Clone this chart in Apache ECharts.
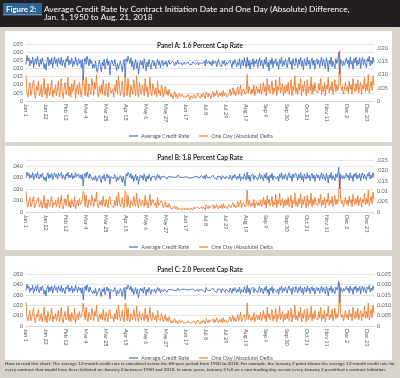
<!DOCTYPE html>
<html>
<head>
<meta charset="utf-8">
<script src="https://cdn.jsdelivr.net/npm/echarts@6/dist/echarts.min.js"></script>
<style>
html,body{margin:0;padding:0;background:#d8d4cc;}
#chart{width:400px;height:378px;}
</style>
</head>
<body>
<div id="chart"></div>
<script>
// ---- categories ----
const monthNames = ['Jan','Feb','Mar','Apr','May','Jun','Jul','Aug','Sep','Oct','Nov','Dec'];
const monthLengths = [31,29,31,30,31,30,31,31,30,31,30,31];
const days = [];
monthNames.forEach((m, i) => { for (let d = 1; d <= monthLengths[i]; d++) days.push(m + ' ' + d); });

// ---- tick labels ----
const leftTicksA = ['0','.005','.010','.015','.020','.025','.030','.035'];
const rightTicksA = ['0','.005','.010','.015','.020'];
const leftTicksB = ['0','.010','.020','.030','.040'];
const rightTicksB = ['0','.005','0.01','.015','.020','.025'];
const leftTicksC = ['0','.010','.020','.030','.040','.050'];
const rightTicksC = ['0','0.005','0.010','0.015','0.020','0.025'];

const seriesNames = ['Average Credit Rate', 'One Day (Absolute) Delta'];
const panelTitles = ['Panel A: 1.6 Percent Cap Rate','Panel B: 1.8 Percent Cap Rate','Panel C: 2.0 Percent Cap Rate'];

// ---- values, in basis points (1 bp = 0.0001) ----
const rateA = [
225,280,245,265,215,250,230,270,205,240,260,225,275,235,210,255,225,265,240,200,230,190,245,270,215,255,225,265,205,240,270,
230,255,210,265,240,225,270,215,250,235,205,260,240,275,220,250,230,265,210,245,225,270,235,215,260,230,250,205,255,
130,240,265,225,275,250,215,260,230,245,200,225,205,245,190,175,225,250,210,180,240,215,255,195,230,260,220,245,160,235,250,
240,215,255,225,185,230,200,220,245,220,180,235,255,150,260,240,275,255,230,265,210,245,190,225,255,200,240,165,215,250,
220,245,200,260,230,185,240,210,255,225,195,235,250,215,240,200,230,255,220,245,205,235,250,215,240,225,245,210,235,250,225,
235,220,245,230,215,240,225,250,230,240,225,235,220,230,240,225,235,230,240,225,235,230,225,240,230,235,225,230,240,220,
235,225,240,230,220,245,215,255,230,220,245,225,240,215,250,230,220,245,210,240,255,225,235,210,245,230,250,215,240,225,235,
215,250,230,205,245,225,255,235,210,240,220,260,200,235,250,215,265,230,205,270,215,250,195,240,225,260,210,245,230,255,205,
240,265,215,250,230,200,255,225,270,210,240,185,250,225,265,205,245,230,260,215,240,195,255,230,270,210,245,220,260,235,
205,250,270,225,245,195,260,230,215,265,240,205,255,225,270,210,245,190,260,235,215,270,225,250,200,240,265,220,250,195,235,
260,225,250,205,240,270,215,255,230,200,265,240,180,250,225,270,210,245,235,200,260,230,250,300,165,255,240,215,245,220,
215,265,230,250,205,270,225,245,195,260,235,270,215,250,225,265,200,245,270,220,255,230,205,260,240,275,215,250,225,270,235
];
const deltaA = [
97,30,15,45,70,20,35,65,80,25,10,55,40,75,20,30,60,15,45,85,25,50,10,65,35,20,55,80,15,40,30,
60,20,45,75,15,35,85,30,10,50,70,25,40,90,20,55,15,65,35,30,80,10,45,60,25,70,40,15,55,
100,95,20,90,35,15,65,40,25,85,60,20,70,45,100,35,15,55,30,60,25,80,40,20,65,45,15,70,75,30,25,
45,15,60,35,80,25,95,55,20,40,75,30,15,100,95,20,85,35,15,60,40,25,80,45,20,95,35,15,70,40,
25,60,45,20,85,35,55,15,40,90,30,20,65,45,25,50,15,75,30,40,20,60,45,15,35,55,25,40,20,45,30,
15,25,10,20,35,15,25,10,20,30,15,10,25,15,10,20,15,10,25,15,5,20,15,10,25,20,10,15,30,20,
15,10,25,15,30,20,10,35,25,15,30,20,10,25,35,15,30,20,40,25,15,30,20,35,15,40,20,30,25,15,20,
30,45,20,35,50,25,40,20,30,55,25,40,60,20,35,45,50,25,35,100,30,55,40,25,45,30,60,20,40,55,30,
45,30,65,25,40,70,35,55,20,85,40,60,30,45,75,25,50,35,80,20,55,40,90,30,45,65,20,55,30,60,
35,70,25,45,80,20,55,40,95,30,50,25,65,40,85,20,60,35,75,45,20,80,30,55,40,90,25,60,35,70,40,
45,30,65,40,85,25,55,35,70,20,60,45,90,30,55,40,75,25,50,80,35,60,40,55,190,60,40,55,25,45,
70,40,55,30,75,45,60,25,85,50,35,65,40,80,30,55,70,25,60,45,90,35,65,40,100,30,55,75,40,95,60
];
const rateB = [
300,345,315,335,290,320,300,340,280,310,330,295,345,305,285,325,300,335,310,275,300,265,315,340,290,325,300,335,280,310,340,
305,325,285,335,310,295,340,290,320,305,280,330,310,345,295,320,300,335,285,315,295,340,305,290,330,300,320,285,325,
225,310,335,300,345,320,290,330,305,315,275,300,280,315,265,250,300,320,285,255,310,290,325,270,300,330,295,315,240,305,320,
310,290,325,300,260,305,275,295,315,295,255,310,325,225,330,310,345,325,300,335,285,315,265,300,325,275,310,240,290,320,
295,315,275,330,300,260,310,285,325,300,270,305,320,290,310,275,300,325,295,315,280,305,320,290,310,300,315,285,305,320,300,
305,295,315,300,290,310,300,320,305,310,300,305,295,300,310,300,305,300,310,295,305,300,295,310,300,305,295,300,310,290,
305,295,315,300,290,315,285,325,300,290,315,295,310,285,320,300,290,315,280,310,325,295,305,280,315,300,320,285,310,295,305,
285,320,300,275,315,295,325,305,280,310,290,330,270,305,320,285,335,300,275,345,285,320,265,310,295,330,280,315,300,325,275,
310,335,285,320,300,270,325,295,340,280,310,255,320,295,335,275,315,300,330,285,310,265,325,300,340,280,315,290,330,305,
275,320,340,295,315,265,330,300,285,335,310,275,325,295,340,280,315,260,330,305,285,340,295,320,270,310,335,290,320,265,305,
330,295,320,275,310,340,285,325,300,270,335,310,250,320,295,340,280,315,305,270,330,300,320,385,200,325,310,285,315,290,
285,335,300,320,275,340,295,315,265,330,305,340,285,320,295,335,270,315,340,290,325,300,275,330,310,345,285,320,295,340,305
];
const deltaB = [
100,40,25,50,70,25,35,60,75,20,15,50,45,70,25,35,55,20,40,80,20,45,15,60,40,25,50,75,20,45,35,
55,25,40,70,20,40,80,25,15,45,65,30,35,85,25,50,20,60,40,25,75,15,40,55,30,65,35,45,60,
100,85,25,80,40,20,60,45,30,80,55,25,65,50,95,30,20,50,35,55,30,75,35,25,60,40,20,65,75,35,30,
40,20,55,30,75,30,95,50,25,40,70,35,20,100,90,25,80,35,20,55,45,30,75,40,25,90,40,20,65,40,
30,55,40,25,80,35,50,20,45,85,30,25,60,40,30,45,20,70,30,35,25,55,40,20,35,50,25,35,20,40,30,
15,20,15,20,30,15,25,10,20,25,15,10,20,15,10,20,15,10,20,15,10,20,15,10,25,15,10,15,25,20,
15,10,25,15,25,20,10,35,25,15,30,20,15,25,35,15,30,20,35,25,15,30,20,35,15,40,20,30,25,15,20,
35,40,20,35,45,25,35,20,30,50,25,40,55,20,35,45,50,25,35,105,30,55,40,25,45,30,60,20,40,50,30,
45,30,60,25,40,70,35,55,20,80,40,60,30,45,75,25,50,35,85,20,55,40,90,30,45,65,20,55,30,60,
35,70,25,45,80,20,55,40,90,30,50,25,65,40,85,20,60,35,75,45,20,80,30,55,40,90,25,60,35,70,40,
45,30,65,40,85,25,55,35,70,20,60,45,90,30,55,40,75,25,50,80,35,60,40,85,185,60,40,55,25,45,
70,40,55,30,75,45,60,25,85,50,35,65,40,80,30,55,70,25,60,45,90,35,65,40,105,30,55,75,40,95,60
];
const rateC = [
340,400,360,385,325,365,345,390,315,355,380,335,395,350,320,375,340,385,355,305,345,290,360,390,325,375,340,385,315,355,390,
345,370,320,385,355,335,390,325,365,350,310,375,355,395,330,365,340,385,320,360,335,390,350,325,375,345,365,315,370,
250,355,385,340,395,365,325,375,345,360,310,340,315,360,295,280,340,365,320,285,355,330,370,300,345,375,335,360,260,350,365,
355,330,370,340,290,345,310,335,360,335,285,350,370,255,375,355,395,370,345,385,325,360,300,340,370,310,355,270,330,365,
335,360,315,375,345,295,355,325,370,340,305,350,365,330,355,315,345,370,335,360,320,350,365,330,355,340,360,325,350,365,340,
350,335,360,345,330,355,340,365,345,355,340,350,335,345,355,340,350,345,355,335,350,345,335,355,345,350,335,345,355,330,
350,335,360,345,330,360,325,370,345,330,360,340,355,325,365,345,330,360,320,355,370,340,350,320,360,345,365,325,355,340,350,
325,365,345,315,360,335,370,350,320,355,330,375,310,350,365,325,380,345,315,390,325,365,305,355,340,375,320,360,345,370,315,
355,380,325,365,345,310,370,340,385,320,355,295,365,340,380,315,360,345,375,325,355,305,370,345,385,320,360,335,375,350,
315,365,385,340,360,305,375,345,325,380,355,315,370,340,385,320,360,300,375,350,325,385,340,365,310,355,380,335,365,305,350,
375,340,365,315,355,385,325,370,345,310,380,355,290,365,340,385,320,360,350,310,375,345,365,430,225,370,355,325,360,335,
325,380,345,365,315,385,340,360,305,375,350,385,325,365,340,380,310,360,385,330,370,345,315,375,355,390,325,365,340,385,350
];
const deltaC = [
115,45,25,50,75,25,40,65,85,25,15,55,45,80,25,35,60,20,45,90,25,50,15,70,40,25,55,85,20,45,35,
60,25,45,75,20,40,90,30,15,50,70,30,40,95,25,55,20,65,40,30,85,15,45,60,30,70,40,50,65,
110,105,30,90,40,20,65,45,30,85,60,25,70,50,100,30,20,55,35,60,30,80,40,25,65,45,20,70,80,35,30,
45,20,60,35,80,30,100,55,25,40,75,35,20,110,100,25,85,35,20,60,45,30,80,45,25,95,40,20,70,40,
30,60,45,25,85,35,55,20,45,90,35,25,65,40,30,50,20,75,35,40,25,60,45,20,35,55,25,40,20,45,30,
15,25,15,20,35,15,25,10,20,30,15,10,25,15,10,20,15,10,25,15,10,20,15,10,25,20,10,15,30,20,
15,10,25,15,30,20,10,35,25,15,30,20,15,25,35,15,30,20,40,25,15,30,20,35,15,40,20,30,25,15,20,
30,45,20,35,50,25,40,20,30,55,25,40,65,20,35,45,55,25,35,110,30,55,40,25,45,30,65,20,40,55,30,
50,30,65,25,40,75,35,55,20,90,40,60,30,45,80,25,50,35,85,20,55,40,95,30,45,70,20,55,30,60,
35,75,25,45,85,20,55,40,100,30,50,25,70,40,90,20,60,35,80,45,20,85,30,55,40,95,25,60,35,75,40,
45,30,70,40,90,25,55,35,75,20,60,45,95,30,55,40,80,25,50,85,35,60,40,90,205,60,40,55,25,45,
75,40,55,30,80,45,60,25,90,50,35,70,40,85,30,55,75,25,60,45,95,35,70,40,110,30,55,80,40,100,60
];

// ---- chart ----
const FONT = 'Lato';
const BLUE = '#4472c4', ORANGE = '#ed7d31', LABEL = '#595959';

const panels = [
  { rate: rateA, delta: deltaA, lt: leftTicksA, rt: rightTicksA, lMax: 350, lInt: 50, rMax: 215, rInt: 50, top: 44, h: 57, titleTop: 37, legendTop: 128 },
  { rate: rateB, delta: deltaB, lt: leftTicksB, rt: rightTicksB, lMax: 450, lInt: 100, rMax: 250, rInt: 50, top: 160, h: 52, titleTop: 149, legendTop: 239 },
  { rate: rateC, delta: deltaC, lt: leftTicksC, rt: rightTicksC, lMax: 500, lInt: 100, rMax: 250, rInt: 50, top: 274, h: 52, titleTop: 261, legendTop: 350 }
];

const grid = [], xAxis = [], yAxis = [], series = [], title = [], legend = [];
panels.forEach((p, i) => {
  grid.push({ left: 26, right: 26, top: p.top, height: p.h });
  title.push({ text: panelTitles[i], left: 'center', top: p.titleTop,
    textStyle: { fontFamily: FONT, fontSize: 6.5, fontWeight: 'bold', color: '#262626' } });
  legend.push({ data: seriesNames, left: 124, top: p.legendTop, icon: 'rect', itemWidth: 9, itemHeight: 1.2,
    itemGap: 10, textStyle: { fontFamily: FONT, fontSize: 5.5, color: LABEL, padding: [0,0,0,-2] } });
  xAxis.push({ type: 'category', gridIndex: i, data: days, boundaryGap: false,
    axisTick: { show: false }, axisLine: { lineStyle: { color: '#d9d9d9', width: 1 } },
    axisLabel: { interval: 20, rotate: -90, fontFamily: FONT, fontSize: 5.5, color: LABEL, margin: 3 } });
  yAxis.push({ type: 'value', gridIndex: i, min: 0, max: p.lMax, interval: p.lInt, position: 'left',
    axisLine: { show: false }, axisTick: { show: false },
    splitLine: { lineStyle: { color: '#e4e4e4', width: 1 } },
    axisLabel: { fontFamily: FONT, fontSize: 5.5, color: LABEL, margin: 3, showMaxLabel: p.lMax % p.lInt === 0,
      formatter: (v) => { const t = p.lt[Math.round(v / p.lInt)]; return t === undefined ? '' : t; } } });
  yAxis.push({ type: 'value', gridIndex: i, min: 0, max: p.rMax, interval: p.rInt, position: 'right',
    axisLine: { show: false }, axisTick: { show: false }, splitLine: { show: false },
    axisLabel: { fontFamily: FONT, fontSize: 5.5, color: LABEL, margin: 3, showMaxLabel: p.rMax % p.rInt === 0,
      formatter: (v) => { const t = p.rt[Math.round(v / p.rInt)]; return t === undefined ? '' : t; } } });
  series.push({ name: seriesNames[0], type: 'line', xAxisIndex: i, yAxisIndex: 2 * i, data: p.rate,
    symbol: 'none', lineStyle: { color: BLUE, width: 0.9 }, itemStyle: { color: BLUE }, z: 3 });
  series.push({ name: seriesNames[1], type: 'line', xAxisIndex: i, yAxisIndex: 2 * i + 1, data: p.delta,
    symbol: 'none', lineStyle: { color: ORANGE, width: 0.9 }, itemStyle: { color: ORANGE }, z: 2 });
});

const graphic = [
  { type: 'rect', shape: { x: 0, y: 0, width: 400, height: 27 }, style: { fill: '#231f20' }, z: -10, silent: true },
  { type: 'rect', shape: { x: 3, y: 3, width: 39, height: 12 }, style: { fill: '#2a6595' }, z: -9, silent: true },
  { type: 'rect', shape: { x: 3, y: 14.5, width: 39, height: 0.8 }, style: { fill: '#9fbfd9' }, z: -9, silent: true },
  { type: 'text', x: 6, y: 5, style: { text: 'Figure 2:', fill: '#ffffff', font: 'bold 7.8px ' + FONT }, z: 10, silent: true },
  { type: 'text', x: 44, y: 5, style: { text: 'Average Credit Rate by Contract Initiation Date and One Day (Absolute) Difference,', fill: '#ffffff', font: '8.4px ' + FONT }, z: 10, silent: true },
  { type: 'text', x: 44, y: 13.5, style: { text: 'Jan. 1, 1950 to Aug. 21, 2018', fill: '#ffffff', font: '8.4px ' + FONT }, z: 10, silent: true },
  { type: 'rect', shape: { x: 5, y: 31, width: 387, height: 111 }, style: { fill: '#ffffff' }, z: -10, silent: true },
  { type: 'rect', shape: { x: 5, y: 146, width: 387, height: 104 }, style: { fill: '#ffffff' }, z: -10, silent: true },
  { type: 'rect', shape: { x: 5, y: 256, width: 387, height: 104 }, style: { fill: '#ffffff' }, z: -10, silent: true },
  { type: 'text', x: 5, y: 361.5, style: { text: 'How to read this chart: The average 12-month credit rate is calculated across the 68-year period from 1950 to 2018. For example, the January 2 point shows the average 12-month credit rate for', fill: '#231f20', font: '4.6px ' + FONT }, z: 10, silent: true },
  { type: 'text', x: 5, y: 367, style: { text: 'every contract that would have been initiated on January 2 between 1950 and 2018. In some years, January 2 fell on a non-trading day, so not every January 2 permitted a contract initiation.', fill: '#231f20', font: '4.6px ' + FONT }, z: 10, silent: true }
];

const chart = echarts.init(document.getElementById('chart'), null, { renderer: 'canvas' });
chart.setOption({
  backgroundColor: '#d8d4cc',
  animation: false,
  textStyle: { fontFamily: FONT },
  graphic, title, legend, grid, xAxis, yAxis, series
});
</script>
</body>
</html>
